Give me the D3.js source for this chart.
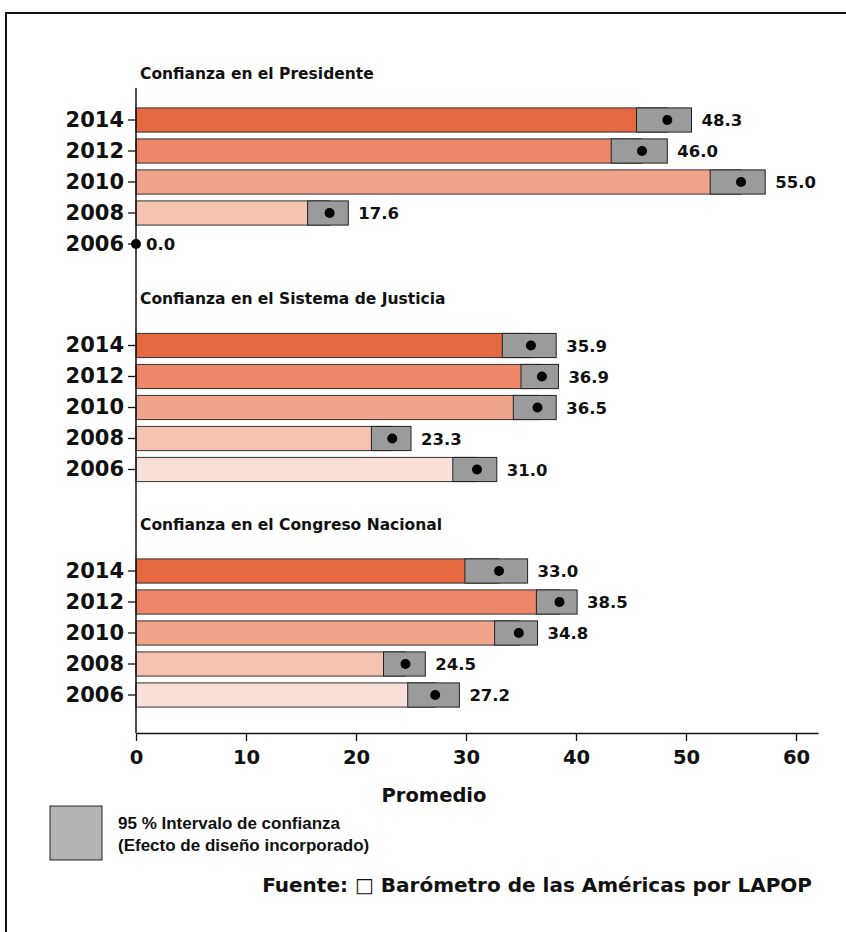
<!DOCTYPE html>
<html>
<head>
<meta charset="utf-8">
<style>
  body { margin: 0; background: #fff; }
  svg text { font-family: "DejaVu Sans", "Liberation Sans", Arial, sans-serif; font-weight: bold; fill: #111; }
</style>
</head>
<body>
<div id="graphic"></div>
<script src="https://d3js.org/d3.v7.min.js"></script>
<script>
// years, top to bottom inside each panel
var years = ["2014", "2012", "2010", "2008", "2006"];
var panelTitles = ["Confianza en el Presidente", "Confianza en el Sistema de Justicia", "Confianza en el Congreso Nacional"];
var yearColors = ["#e66840", "#ec876a", "#f0a48c", "#f4c3b1", "#f9e0d7"];

// means and 95% CI bounds
var presidente   = [48.3, 46.0, 55.0, 17.6, 0.0];
var presidenteLo = [45.5, 43.2, 52.2, 15.6, 0.0];
var presidenteHi = [50.5, 48.3, 57.2, 19.3, 0.0];

var justicia   = [35.9, 36.9, 36.5, 23.3, 31.0];
var justiciaLo = [33.3, 35.0, 34.3, 21.4, 28.8];
var justiciaHi = [38.2, 38.4, 38.2, 25.0, 32.8];

var congreso   = [33.0, 38.5, 34.8, 24.5, 27.2];
var congresoLo = [29.9, 36.4, 32.6, 22.5, 24.7];
var congresoHi = [35.6, 40.1, 36.5, 26.3, 29.4];

var xTicks = [0, 10, 20, 30, 40, 50, 60];

var panels = [
  { title: panelTitles[0], mean: presidente, lo: presidenteLo, hi: presidenteHi },
  { title: panelTitles[1], mean: justicia, lo: justiciaLo, hi: justiciaHi },
  { title: panelTitles[2], mean: congreso, lo: congresoLo, hi: congresoHi }
];

var FONT = '"DejaVu Sans", "Liberation Sans", Arial, sans-serif';
var width = 846, height = 932;
var svg = d3.select("#graphic").append("svg")
    .attr("width", width)
    .attr("height", height);

// outer frame
svg.append("rect")
    .attr("x", 6).attr("y", 13)
    .attr("width", 860).attr("height", 940)
    .attr("fill", "none")
    .attr("stroke", "#111")
    .attr("stroke-width", 2);

var x = d3.scaleLinear().domain([0, 62]).range([136, 818]);

var panelTop = 104.5, panelStep = 225.5, bandLen = 155;

panels.forEach(function (p, i) {
    var top = panelTop + i * panelStep;
    var y = d3.scaleBand()
        .domain(years)
        .range([top, top + bandLen])
        .paddingInner(0.22)
        .paddingOuter(0.11);

    svg.append("text")
        .attr("x", 140)
        .attr("y", top - 26)
        .style("font-size", "15.5px")
        .text(p.title);

    var gy = svg.append("g")
        .attr("transform", "translate(136,0)")
        .style("font-size", "21px")
        .call(d3.axisLeft(y).tickSize(8).tickSizeOuter(0).tickPadding(4));
    gy.select(".domain").remove();
    gy.selectAll(".tick line").attr("stroke", "#111").attr("stroke-width", 1.3);
    gy.selectAll("text").style("font-family", FONT).style("font-weight", "bold").attr("fill", "#111");

    var rows = years.map(function (yr, j) {
        return { year: yr, mean: p.mean[j], lo: p.lo[j], hi: p.hi[j], color: yearColors[j] };
    });

    var g = svg.append("g").selectAll("g").data(rows).enter().append("g");

    g.filter(function (d) { return d.mean > 0; }).append("rect")
        .attr("x", x(0))
        .attr("y", function (d) { return y(d.year); })
        .attr("width", function (d) { return x(d.mean) - x(0); })
        .attr("height", y.bandwidth())
        .attr("fill", function (d) { return d.color; })
        .attr("stroke", "#333")
        .attr("stroke-width", 1);

    g.filter(function (d) { return d.hi > d.lo; }).append("rect")
        .attr("x", function (d) { return x(d.lo); })
        .attr("y", function (d) { return y(d.year); })
        .attr("width", function (d) { return x(d.hi) - x(d.lo); })
        .attr("height", y.bandwidth())
        .attr("fill", "#9b9b9b")
        .attr("stroke", "#222")
        .attr("stroke-width", 1);

    g.append("circle")
        .attr("cx", function (d) { return x(d.mean); })
        .attr("cy", function (d) { return y(d.year) + y.bandwidth() / 2; })
        .attr("r", 5)
        .attr("fill", "#000");

    g.append("text")
        .attr("x", function (d) { return x(Math.max(d.hi, d.mean)) + 10; })
        .attr("y", function (d) { return y(d.year) + y.bandwidth() / 2 + 6; })
        .style("font-size", "16.5px")
        .text(function (d) { return d.mean.toFixed(1); });
});

// vertical axis line spanning all panels
svg.append("line")
    .attr("x1", x(0)).attr("x2", x(0))
    .attr("y1", 88).attr("y2", 733)
    .attr("stroke", "#111")
    .attr("stroke-width", 1.5);

// x axis
var gx = svg.append("g")
    .attr("transform", "translate(0,733)")
    .style("font-size", "19.5px")
    .call(d3.axisBottom(x).tickValues(xTicks).tickSize(8).tickSizeOuter(0).tickPadding(9));
gx.select(".domain").attr("stroke", "#111").attr("stroke-width", 1.5);
gx.selectAll(".tick line").attr("stroke", "#111").attr("stroke-width", 1.3);
gx.selectAll("text").style("font-family", FONT).style("font-weight", "bold").attr("fill", "#111");

svg.append("text")
    .attr("x", 434)
    .attr("y", 802)
    .attr("text-anchor", "middle")
    .style("font-size", "19.5px")
    .text("Promedio");

// legend
svg.append("rect")
    .attr("x", 50).attr("y", 806)
    .attr("width", 52).attr("height", 54)
    .attr("fill", "#b4b4b4")
    .attr("stroke", "#222")
    .attr("stroke-width", 1);

svg.append("text").attr("x", 118).attr("y", 829).style("font-family", '"Liberation Sans", Arial, sans-serif').style("font-size", "17px").text("95 % Intervalo de confianza");
svg.append("text").attr("x", 118).attr("y", 851).style("font-family", '"Liberation Sans", Arial, sans-serif').style("font-size", "17px").text("(Efecto de diseño incorporado)");

var src = svg.append("text")
    .attr("x", 812)
    .attr("y", 892)
    .attr("text-anchor", "end")
    .style("font-size", "20px");
src.append("tspan").text("Fuente: ");
src.append("tspan").style("font-weight", "normal").text("\u25A1");
src.append("tspan").text(" Barómetro de las Américas por LAPOP");
</script>
</body>
</html>
